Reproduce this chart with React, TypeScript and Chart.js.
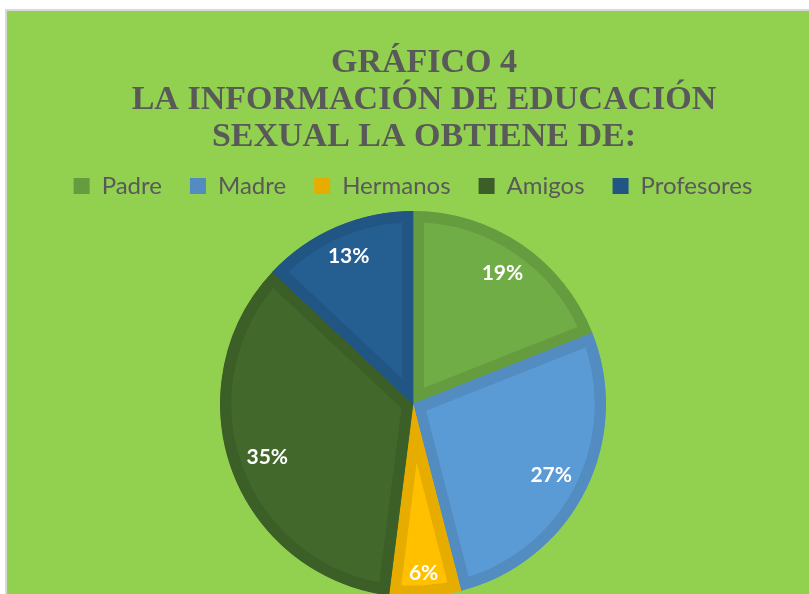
import React, { useEffect, useRef } from "react";
import { Chart, registerables } from "chart.js";

Chart.register(...registerables);

const TITLE_LINES = ["GRÁFICO 4", "LA INFORMACIÓN DE EDUCACIÓN", "SEXUAL LA OBTIENE DE:"];
const CATEGORIES = ["Padre", "Madre", "Hermanos", "Amigos", "Profesores"];
const PERCENTAGES = [19, 27, 6, 35, 13];
const FILL_COLORS = ["#70AD47", "#5B9BD5", "#FFC000", "#43682B", "#255E91"];
const BORDER_COLORS = ["#659C40", "#528CC0", "#E6AD00", "#3C5E27", "#215583"];

const TEXT_GREY = "#595959";
const BG_GREEN = "#92D050";

const titlePlugin = {
  id: "serifTitle",
  afterDraw(chart: any) {
    const ctx = chart.ctx;
    ctx.save();
    ctx.font = 'bold 34px "Liberation Serif", "Times New Roman", serif';
    ctx.fillStyle = TEXT_GREY;
    ctx.textAlign = "center";
    ctx.textBaseline = "alphabetic";
    const baselines = [72, 108.5, 146];
    TITLE_LINES.forEach((line, i) => ctx.fillText(line, 424, baselines[i]));
    ctx.restore();
  },
};

const labelPlugin = {
  id: "insideEndLabels",
  afterDatasetsDraw(chart: any) {
    const ctx = chart.ctx;
    const meta = chart.getDatasetMeta(0);
    const values = chart.data.datasets[0].data as number[];
    ctx.save();
    ctx.font = 'bold 21px Lato, "Open Sans", sans-serif';
    ctx.fillStyle = "#FFFFFF";
    ctx.textAlign = "center";
    ctx.textBaseline = "middle";
    meta.data.forEach((arc: any, i: number) => {
      const { x, y, startAngle, endAngle, outerRadius } = arc.getProps(
        ["x", "y", "startAngle", "endAngle", "outerRadius"],
        true
      );
      const mid = (startAngle + endAngle) / 2;
      const ux = Math.cos(mid);
      const uy = Math.sin(mid);
      const text = values[i] + "%";
      const halfW = ctx.measureText(text).width / 2;
      const halfH = 7.5;
      const extent = Math.abs(ux) * halfW + Math.abs(uy) * halfH;
      const dist = outerRadius - 16 - extent;
      ctx.fillText(text, x + ux * dist, y + uy * dist + 1);
    });
    ctx.restore();
  },
};

export default function App() {
  const canvasRef = useRef<HTMLCanvasElement | null>(null);

  useEffect(() => {
    document.body.style.margin = "0";
    document.body.style.overflow = "hidden";
    const canvas = canvasRef.current;
    if (!canvas) return;
    const chart = new Chart(canvas, {
      type: "pie",
      data: {
        labels: CATEGORIES,
        datasets: [
          {
            data: PERCENTAGES,
            backgroundColor: FILL_COLORS,
            borderColor: BORDER_COLORS,
            borderWidth: 11,
            borderAlign: "inner",
            hoverBorderWidth: 11,
            clip: false,
          } as any,
        ],
      },
      options: {
        responsive: false,
        animation: false,
        events: [],
        radius: 193,
        layout: { padding: { top: 146, left: 17, right: 0, bottom: 0 } },
        plugins: {
          title: { display: false },
          tooltip: { enabled: false },
          legend: {
            display: true,
            position: "top",
            labels: {
              boxWidth: 16,
              boxHeight: 16,
              padding: 28,
              color: TEXT_GREY,
              font: { family: 'Lato, "Open Sans", sans-serif', size: 24 },
              generateLabels: (c: any) =>
                (c.data.labels as string[]).map((text, i) => ({
                  text,
                  fillStyle: BORDER_COLORS[i],
                  strokeStyle: BORDER_COLORS[i],
                  lineWidth: 0,
                  fontColor: TEXT_GREY,
                  hidden: false,
                  index: i,
                })),
            },
          },
        },
      } as any,
      plugins: [titlePlugin, labelPlugin],
    });
    return () => chart.destroy();
  }, []);

  return (
    <div
      style={{
        position: "fixed",
        left: 0,
        top: 0,
        width: 809,
        height: 594,
        overflow: "hidden",
        background: "#FFFFFF",
      }}
    >
      <div
        style={{
          position: "absolute",
          left: 5,
          top: 9,
          width: 820,
          height: 600,
          background: BG_GREEN,
          borderLeft: "2px solid #D9D9D9",
          borderTop: "2px solid #D9D9D9",
        }}
      />
      <canvas
        ref={canvasRef}
        width={809}
        height={600}
        style={{ position: "absolute", left: 0, top: 0, width: 809, height: 600 }}
      />
    </div>
  );
}
